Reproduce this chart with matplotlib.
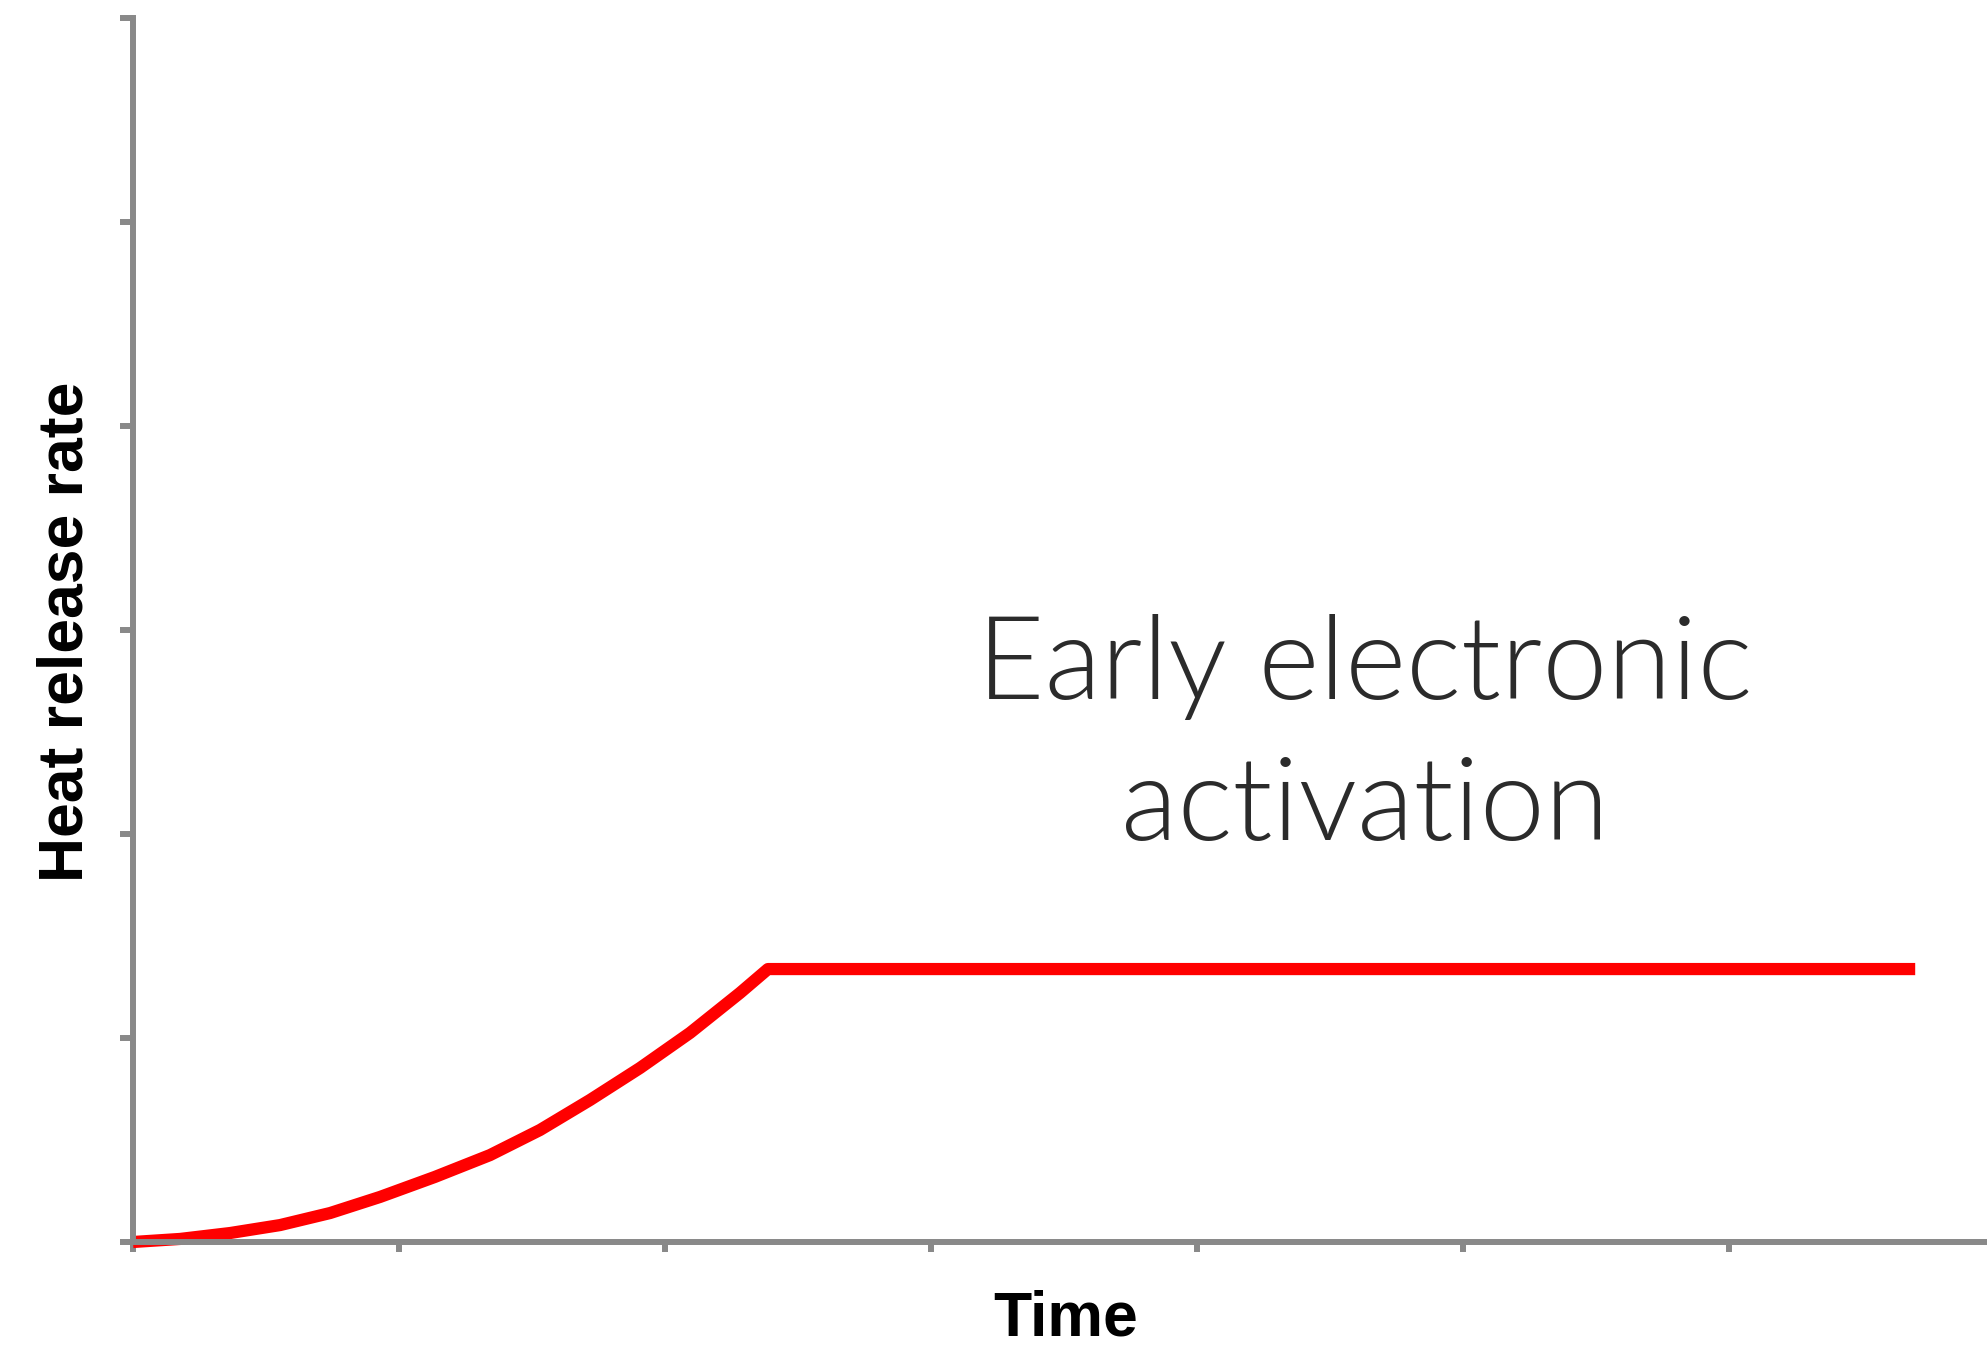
import numpy as np
import matplotlib
matplotlib.use('Agg')
import matplotlib.pyplot as plt
from matplotlib import font_manager

# figure size in pixels at dpi 100
dpi = 100
fig_w, fig_h = 1987, 1349

# heat release curve (arbitrary units)
time_pts = [0.0, 0.177, 0.365, 0.553, 0.741, 0.929, 1.135, 1.342, 1.530,
            1.718, 1.906, 2.094, 2.282, 2.387, 6.70]
hrr_pts  = [0.0, 0.015, 0.044, 0.083, 0.142, 0.221, 0.319, 0.426, 0.549,
            0.696, 0.853, 1.025, 1.221, 1.338, 1.338]

x_ticks = [0, 1, 2, 3, 4, 5, 6]
y_ticks = [0, 1, 2, 3, 4, 5, 6]

note_lines = ['Early electronic', 'activation']

axis_grey = '#898989'

# Lato Light, picked by file so the family name does not matter
light_file = [f.fname for f in font_manager.fontManager.ttflist
              if f.fname.endswith('Lato-Light.ttf')]
if light_file:
    note_font = font_manager.FontProperties(fname=light_file[0], size=84)
else:
    note_font = font_manager.FontProperties(family='Lato', weight='light', size=84)

fig = plt.figure(figsize=(fig_w/dpi, fig_h/dpi), dpi=dpi)
ax = fig.add_axes([133/fig_w, 1-1242/fig_h, 1-133/fig_w, (1242-18)/fig_h])

ax.plot(time_pts, hrr_pts, color='#ff0000', lw=8.8,
        solid_capstyle='butt', solid_joinstyle='round', clip_on=False)

ax.set_xlim(0, (fig_w-133)/266)
ax.set_ylim(0, 6)
ax.set_xticks(x_ticks)
ax.set_yticks(y_ticks)
ax.set_xticklabels([])
ax.set_yticklabels([])

for s in ['top', 'right']:
    ax.spines[s].set_visible(False)
for s in ['left', 'bottom']:
    ax.spines[s].set_color(axis_grey)
    ax.spines[s].set_linewidth(4.3)
ax.tick_params(direction='out', width=4.3, color=axis_grey)
ax.tick_params(axis='x', length=7.5)
ax.tick_params(axis='y', length=9.4)

ax.set_xlabel('Time', fontsize=45, fontweight='bold', family='Liberation Sans')
ax.xaxis.label.set_va('baseline')
ax.xaxis.set_label_coords((1066-133)/(fig_w-133), -(1336-1242)/1224)

ax.set_ylabel('Heat release rate', fontsize=45, fontweight='bold',
              family='Liberation Sans')
ax.yaxis.label.set_va('baseline')
ax.yaxis.set_label_coords(-(133-83)/(fig_w-133), (1242-632)/1224)

# annotation, one text per line
note_y = [2.66, 1.97]
for line, yy in zip(note_lines, note_y):
    ax.text(4.63, yy, line, ha='center', va='baseline',
            fontproperties=note_font, color='#2b2b2b')

fig.savefig('out.png', dpi=dpi)
